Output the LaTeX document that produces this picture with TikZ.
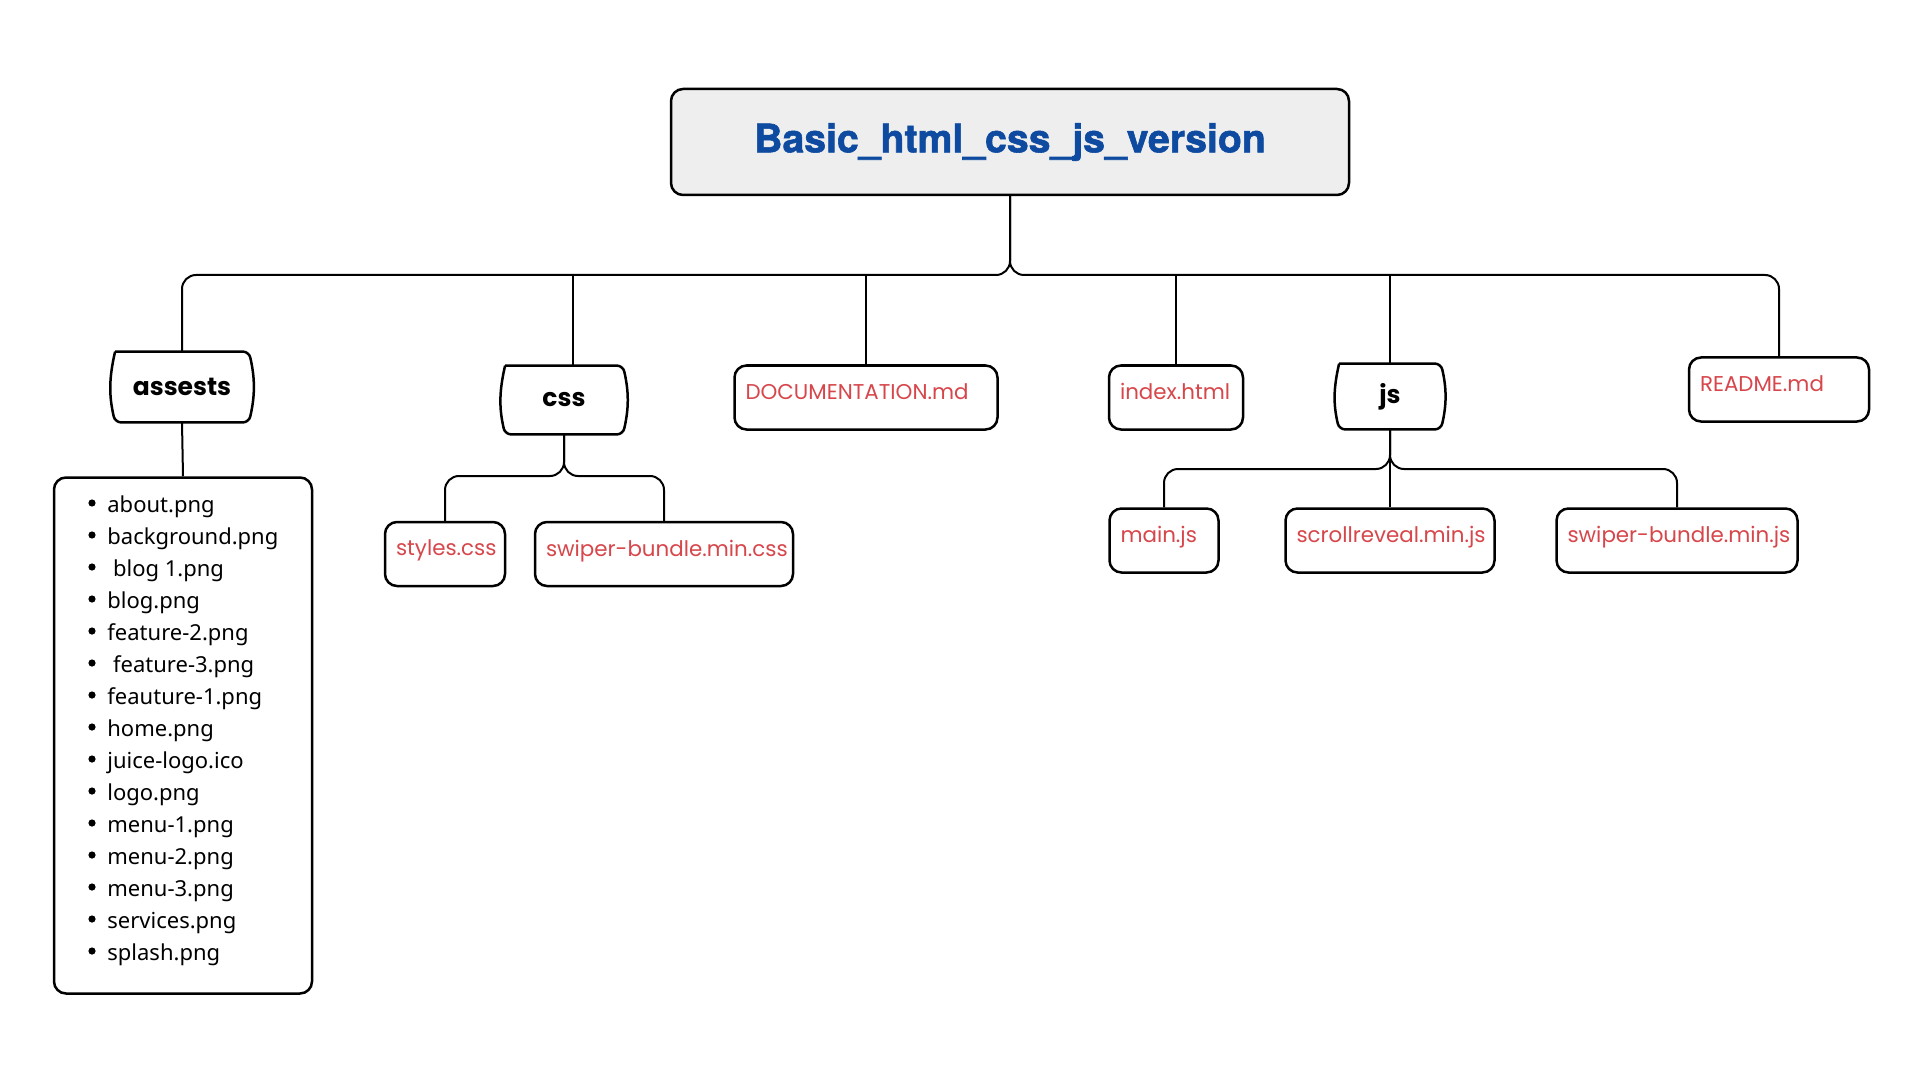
\documentclass[tikz,border=0pt]{standalone}
\usepackage{fontspec}
\newfontfamily\titlefont[BoldFeatures={FakeBold=1.5}]{TeX Gyre Heros}
\newfontfamily\popfont{Poppins}
\newfontfamily\listfont{Noto Sans}
\definecolor{titleblue}{RGB}{13,74,160}
\definecolor{filered}{RGB}{215,70,75}
\definecolor{rootgray}{RGB}{238,238,238}
\exhyphenpenalty=10000
\hyphenpenalty=10000
\tikzset{
  link/.style={line width=1pt, rounded corners=7pt},
  folder/.style={inner sep=0pt,
    font=\popfont\bfseries\fontsize{12.5}{15}\selectfont},
  foldline/.style={line width=1.25pt, rounded corners=3pt},
  file/.style={draw, line width=1.25pt, rounded corners=6pt,
    minimum height=32pt, inner xsep=5.5pt, align=left, text width=#1,
    text depth=6pt, text=filered,
    font=\popfont\fontsize{10.7}{13}\selectfont},
  item/.style={inner sep=0pt, font=\listfont\fontsize{11}{13}\selectfont}
}
\begin{document}
\begin{tikzpicture}[x=0.5pt, y=-0.5pt]
  \fill[white] (0, 0) rectangle (1920, 1080);
  \useasboundingbox (0, 0) rectangle (1920, 1080);

  % top
  \node[draw, line width=1.25pt, fill=rootgray, rounded corners=6pt,
    minimum width=339pt, minimum height=53pt, text=titleblue,
    font=\titlefont\bfseries\fontsize{19.6}{23}\selectfont]
    (root) at (1010, 142) {\raisebox{-2.5pt}{Basic\_html\_css\_js\_version}};
  \coordinate (bus) at (1010, 275);

  % first level
  \node[folder, minimum width=66.5pt, minimum height=35pt] (assests) at (182, 387) {assests};
  \node[folder, minimum width=58.5pt, minimum height=34pt] (css) at (564, 400) {css};
  \node[file=120.5pt] (doc) at (866, 397.5) {DOCUMENTATION.md};
  \node[file=56pt] (index) at (1176, 397.5) {index.html};
  \node[folder, minimum width=50.5pt, minimum height=32.5pt] (js) at (1390, 396.5) {js};
  \node[file=79pt] (readme) at (1779, 389.5) {README.md};

  \foreach \n in {assests, css, js}
    \draw[foldline] (\n.north west) -- (\n.north east) to[bend left=13]
      (\n.south east) -- (\n.south west) to[bend left=13] (\n.north west);

  % css files
  \coordinate (cssbus) at (564, 476);
  \node[file=49pt] (styles) at (445, 554) {styles.css};
  \node[file=118pt] (swipercss) at (664, 554) {swiper-bundle.min.css};

  % js files
  \coordinate (jsbus) at (1390, 469);
  \node[file=43.5pt] (mainjs) at (1164, 540.5) {main.js};
  \node[file=93.5pt] (scroll) at (1390, 540.5) {scrollreveal.min.js};
  \node[file=109.5pt] (swiperjs) at (1677, 540.5) {swiper-bundle.min.js};

  % assests list
  \node[draw, line width=1.25pt, rounded corners=6pt, minimum width=129pt,
    minimum height=258pt] (list) at (183, 735.5) {};
  \foreach \f [count=\i] in {about.png, background.png, {\ blog 1.png},
      blog.png, feature-2.png, {\ feature-3.png}, feauture-1.png, home.png,
      juice-logo.ico, logo.png, menu-1.png, menu-2.png, menu-3.png,
      services.png, splash.png} {
    \fill (92, 471 + 32*\i) circle[radius=1.8pt];
    \node[item, anchor=base west] (item\i) at (107, 480 + 32*\i) {\f};
  }

  % connectors
  \draw[link] (root.south) |- (assests.north |- bus) -- (assests.north);
  \draw[link] (root.south) |- (readme.north |- bus) -- (readme.north);
  \draw[link] ([xshift=4.5pt]css.north |- bus) -- ([xshift=4.5pt]css.north);
  \draw[link] (doc.north |- bus) -- (doc.north);
  \draw[link] (index.north |- bus) -- (index.north);
  \draw[link] (js.north |- bus) -- (js.north);
  \draw[link] (assests.south) -- (list.north);

  \draw[link] (css.south) |- (styles.north |- cssbus) -- (styles.north);
  \draw[link] (css.south) |- (swipercss.north |- cssbus) -- (swipercss.north);

  \draw[link] (js.south) |- (mainjs.north |- jsbus) -- (mainjs.north);
  \draw[link] (js.south) |- (swiperjs.north |- jsbus) -- (swiperjs.north);
  \draw[link] (js.south) -- (scroll.north);
\end{tikzpicture}
\end{document}
